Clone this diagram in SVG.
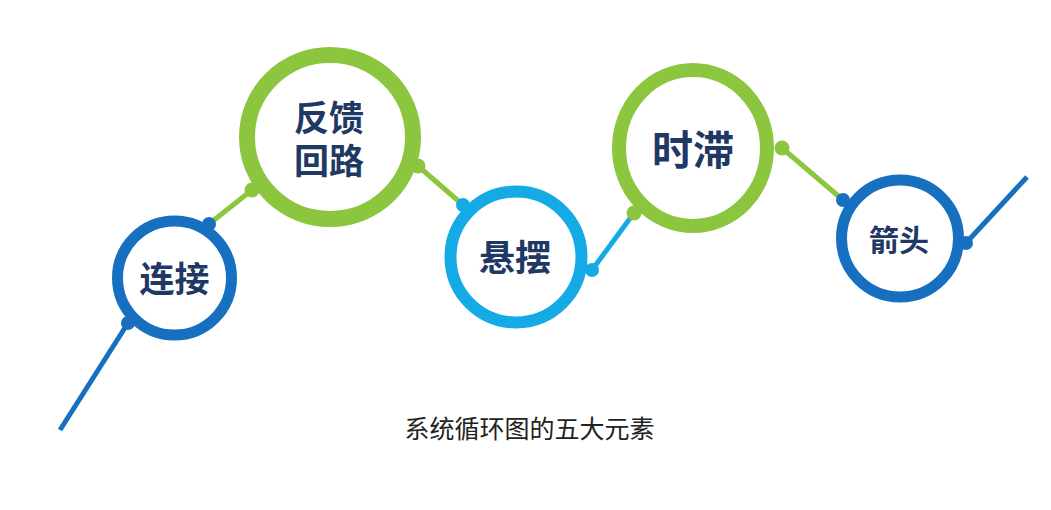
<svg xmlns="http://www.w3.org/2000/svg" width="1051" height="510" viewBox="0 0 1051 510">
<style>
.ring{fill:#fff}
.dblue{stroke:#1670bf}
.lblue{stroke:#14aae6}
.green{stroke:#8cc63f}
.lbl{font-family:"Noto Sans CJK SC","Noto Sans",sans-serif;font-weight:bold;fill:#1f3864;text-anchor:middle}
.cap{font-family:"Noto Sans CJK SC","Noto Sans",sans-serif;fill:#222;text-anchor:middle;font-size:25px}
.ln{stroke-width:5;stroke-linecap:butt;fill:none}
</style>
<rect width="1051" height="510" fill="#fff"/>
<g id="connectors">
<line class="ln dblue" x1="60" y1="430" x2="128" y2="323"/>
<line class="ln green" x1="209" y1="224" x2="252" y2="190"/>
<line class="ln green" x1="418" y1="166" x2="463" y2="205"/>
<line class="ln lblue" x1="592" y1="270" x2="634" y2="213"/>
<line class="ln green" x1="782" y1="148" x2="843" y2="200"/>
<line class="ln dblue" x1="966" y1="243" x2="1027" y2="177"/>
</g>
<g id="node-lianjie">
<circle class="ring dblue" cx="174.5" cy="278" r="57" stroke-width="11"/>
<circle cx="209" cy="224" r="7" fill="#1670bf"/>
<circle cx="128" cy="323" r="7" fill="#1670bf"/>
<text class="lbl" x="174.5" y="292" font-size="35">连接</text>
</g>
<g id="node-fankui">
<ellipse class="ring green" cx="330" cy="137" rx="83" ry="82" stroke-width="16"/>
<circle cx="252" cy="190" r="7.5" fill="#8cc63f"/>
<circle cx="418" cy="166" r="7.5" fill="#8cc63f"/>
<text class="lbl" x="329" y="131" font-size="35">反馈</text>
<text class="lbl" x="329" y="174" font-size="35">回路</text>
</g>
<g id="node-xuanbai">
<circle class="ring lblue" cx="516" cy="257" r="65.5" stroke-width="12"/>
<circle cx="463" cy="205" r="7" fill="#14aae6"/>
<circle cx="592" cy="270" r="7" fill="#14aae6"/>
<text class="lbl" x="515" y="271" font-size="36">悬摆</text>
</g>
<g id="node-shizhi">
<ellipse class="ring green" cx="693" cy="148" rx="74" ry="78" stroke-width="14"/>
<circle cx="634" cy="213" r="7.5" fill="#8cc63f"/>
<circle cx="782" cy="148" r="7.5" fill="#8cc63f"/>
<text class="lbl" x="693" y="165" font-size="41">时滞</text>
</g>
<g id="node-jiantou">
<circle class="ring dblue" cx="900" cy="238.5" r="58.5" stroke-width="11"/>
<circle cx="843" cy="200" r="7" fill="#1670bf"/>
<circle cx="966" cy="243" r="7" fill="#1670bf"/>
<text class="lbl" x="899" y="251" font-size="30">箭头</text>
</g>
<text class="cap" x="529.5" y="437.5">系统循环图的五大元素</text>
</svg>
